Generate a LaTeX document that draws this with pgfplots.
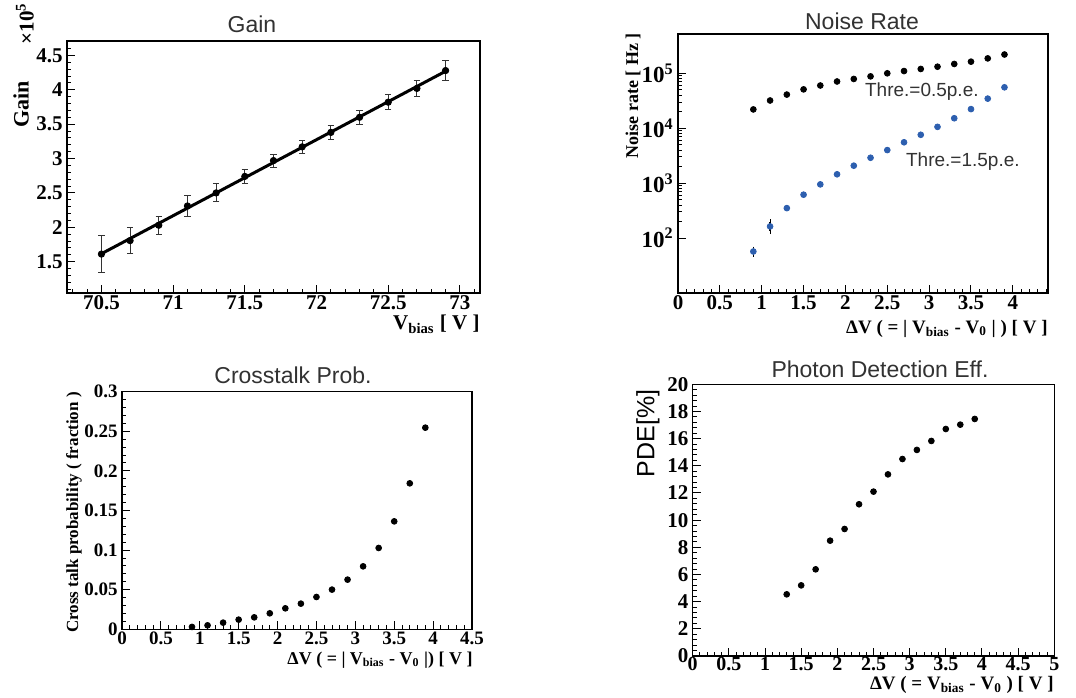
\documentclass[border=0pt]{standalone}
\usepackage{fontspec}
\setmainfont{Liberation Serif}
\setsansfont{Liberation Sans}
\usepackage{pgfplots}
\pgfplotsset{compat=1.18}
\definecolor{nblue}{RGB}{45,95,175}
\definecolor{ttl}{RGB}{50,50,50}
\pgfplotsset{
  rootaxis/.style={
    anchor=south west, scale only axis,
    axis line style={line width=0.6pt},
    tick align=inside, xtick pos=bottom, ytick pos=left,
    major tick length=4pt, minor tick length=2pt,
    tick style={line width=0.5pt, black},
    scaled ticks=false,
    /pgf/number format/assume math mode=true,
    /pgf/number format/fixed, /pgf/number format/precision=2,
    ticklabel style={font=\fontsize{10.5}{11}\selectfont\bfseries},
    xticklabel style={inner sep=1.2pt},
    yticklabel style={inner sep=2pt},
    clip=false,
  },
  dots/.style={only marks, mark=*, mark size=1.45pt, mark options={draw=black, fill=black}},
}
\begin{document}
\begin{tikzpicture}
\path[use as bounding box] (0,0) rectangle (538pt,348.5pt);

% ---------------- Gain ----------------
\begin{axis}[rootaxis, at={(33.5pt,202pt)}, width=206.5pt, height=126pt,
  xmin=70.26, xmax=73.14, ymin=1.044, ymax=4.71,
  xtick={70.5,71,71.5,72,72.5,73}, ytick={1.5,2,2.5,3,3.5,4,4.5},
  minor xtick={70.3,70.4,...,73.15},
  minor ytick={1.1,1.2,...,4.75}]
\addplot[line width=1.5pt, black] coordinates {(70.5,1.615) (72.9,4.27)};
\addplot[only marks, mark=*, mark size=1.6pt, black,
  error bars/.cd, y dir=both, y explicit,
  error bar style={line width=0.5pt, black!80},
  error mark options={rotate=90, mark size=1.6pt, line width=0.5pt, black!80}]
  coordinates {
  (70.5,1.61) +- (0,0.267)
  (70.7,1.806) +- (0,0.19)
  (70.9,2.03) +- (0,0.13)
  (71.1,2.31) +- (0,0.15)
  (71.3,2.50) +- (0,0.13)
  (71.5,2.74) +- (0,0.10)
  (71.7,2.97) +- (0,0.095)
  (71.9,3.17) +- (0,0.097)
  (72.1,3.38) +- (0,0.10)
  (72.3,3.60) +- (0,0.10)
  (72.5,3.82) +- (0,0.11)
  (72.7,4.02) +- (0,0.12)
  (72.9,4.28) +- (0,0.14)
  };
\end{axis}

% ---------------- Noise Rate ----------------
\begin{axis}[rootaxis, at={(339pt,202pt)}, width=185pt, height=129.5pt,
  xmin=0, xmax=4.42, ymode=log, ymin=10, ymax=5.2e5,
  xtick={0,0.5,...,4}, minor xtick={0,0.1,...,4.42},
  ytick={100,1000,10000,100000},
  yticklabels={10\textsuperscript{2},10\textsuperscript{3},10\textsuperscript{4},10\textsuperscript{5}},
  yticklabel style={font=\fontsize{11.5}{12}\selectfont\bfseries}]
\addplot[dots] coordinates {
  (0.9,2.2e4) (1.1,3.2e4) (1.3,4.1e4) (1.5,5.1e4) (1.7,6.0e4) (1.9,7.1e4)
  (2.1,7.9e4) (2.3,8.8e4) (2.5,1.0e5) (2.7,1.1e5) (2.9,1.2e5) (3.1,1.32e5)
  (3.3,1.48e5) (3.5,1.63e5) (3.7,1.87e5) (3.9,2.2e5)};
\addplot[only marks, mark=*, mark size=1.45pt, mark options={draw=nblue, fill=nblue},
  error bars/.cd, y dir=both, y explicit,
  error bar style={line width=0.8pt, black},
  error mark options={draw=none}]
  coordinates {
  (0.9,57) +- (0,5) (1.1,163) +- (0,30) (1.3,351) +- (0,0) (1.5,617) +- (0,0)
  (1.7,950) +- (0,0) (1.9,1450) +- (0,0) (2.1,2080) +- (0,0) (2.3,2900) +- (0,0)
  (2.5,4000) +- (0,0) (2.7,5550) +- (0,0) (2.9,7600) +- (0,0) (3.1,1.06e4) +- (0,0)
  (3.3,1.52e4) +- (0,0) (3.5,2.23e4) +- (0,0) (3.7,3.46e4) +- (0,0) (3.9,5.56e4) +- (0,0)};
\node[anchor=west, font=\fontsize{9.5}{10}\sffamily, text=ttl, inner sep=0pt] at (axis cs:2.23,4.6e4) {Thre.=0.5p.e.};
\node[anchor=west, font=\fontsize{9.5}{10}\sffamily, text=ttl, inner sep=0pt] at (axis cs:2.72,2.5e3) {Thre.=1.5p.e.};
\end{axis}

% ---------------- Crosstalk ----------------
\begin{axis}[rootaxis, at={(61pt,33.85pt)}, width=175pt, height=118.8pt,
  xmin=0, xmax=4.5, ymin=0, ymax=0.3,
  ticklabel style={font=\fontsize{9.5}{10}\selectfont\bfseries},
  xtick={0,0.5,...,4.5}, minor xtick={0,0.1,...,4.5},
  ytick={0,0.05,...,0.3}, minor ytick={0,0.01,...,0.3}]
\addplot[dots] coordinates {
  (0.9,0.003) (1.1,0.005) (1.3,0.0084) (1.5,0.0122) (1.7,0.0151) (1.9,0.0202)
  (2.1,0.0265) (2.3,0.0324) (2.5,0.0408) (2.7,0.0501) (2.9,0.0627) (3.1,0.0795)
  (3.3,0.1027) (3.5,0.1363) (3.7,0.1843) (3.9,0.2546)};
\end{axis}

% ---------------- PDE ----------------
\begin{axis}[rootaxis, at={(346.35pt,20.5pt)}, width=180.8pt, height=135.85pt,
  xmin=0, xmax=5, ymin=0, ymax=20,
  xticklabel style={inner sep=0.6pt, font=\fontsize{10}{10.5}\selectfont\bfseries},
  xtick={0,0.5,...,5}, minor xtick={0,0.1,...,5.05},
  ytick={0,2,...,20}, minor ytick={0,0.4,...,20.1}]
\addplot[dots] coordinates {
  (1.3,4.54) (1.5,5.20) (1.7,6.38) (1.9,8.49) (2.1,9.35) (2.3,11.17)
  (2.5,12.10) (2.7,13.37) (2.9,14.50) (3.1,15.17) (3.3,15.83) (3.5,16.71)
  (3.7,17.03) (3.9,17.45)};
\end{axis}

% ---------------- titles ----------------
\begin{scope}[every node/.style={font=\fontsize{11.5}{13}\sffamily, text=ttl, inner sep=0pt}]
\node[anchor=base] at (126pt,332pt) {Gain};
\node[anchor=base] at (431pt,333.5pt) {Noise Rate};
\node[anchor=base] at (146.5pt,157pt) {Crosstalk Prob.};
\node[anchor=base] at (440pt,160pt) {Photon Detection Eff.};
\end{scope}

% ---------------- axis labels ----------------
\begin{scope}[every node/.style={inner sep=0pt, font=\fontsize{8.5}{9}\selectfont\bfseries}]
% y labels
\node[rotate=90, font=\fontsize{11}{12}\selectfont\bfseries] at (10.5pt,296.25pt) {Gain};
\node[rotate=90, font=\fontsize{10.5}{11}\selectfont\bfseries] at (12.5pt,336.75pt) {×10\textsuperscript{5}};
\node[rotate=90, anchor=east, font=\fontsize{9}{10}\selectfont\bfseries] at (316.5pt,332pt) {Noise rate [ Hz ]};
\node[rotate=90] at (37pt,92.25pt) {Cross talk probability ( fraction )};
\node[rotate=90, font=\fontsize{12.5}{13}\sffamily] at (324pt,131.75pt) {PDE[\%]};
% x labels
\node[anchor=base east, font=\fontsize{10.5}{11}\selectfont\bfseries] at (240pt,183.5pt) {V\textsubscript{bias} [ V ]};
\node[anchor=base east, font=\fontsize{9.5}{10}\selectfont\bfseries] at (524pt,182pt) {ΔV ( = | V\textsubscript{bias} - V\textsubscript{0} | ) [ V ]};
\node[anchor=base east, font=\fontsize{9}{10}\selectfont\bfseries] at (236.5pt,16.5pt) {ΔV ( = | V\textsubscript{bias} - V\textsubscript{0} |) [ V ]};
\node[anchor=base east, font=\fontsize{9.5}{10}\selectfont\bfseries] at (527pt,3.8pt) {ΔV ( = V\textsubscript{bias} - V\textsubscript{0} ) [ V ]};
\end{scope}
\end{tikzpicture}
\end{document}
